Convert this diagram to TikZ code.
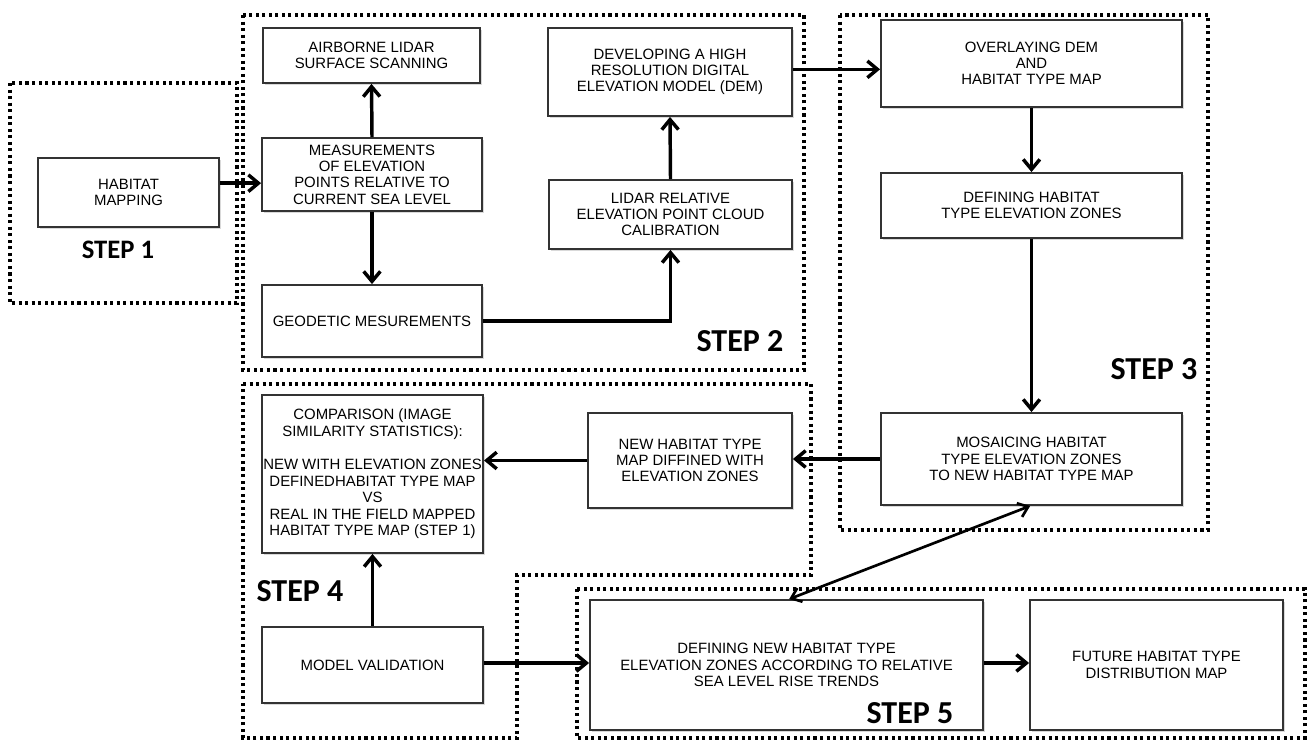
\documentclass[tikz,border=0pt]{standalone}
\usepackage{fontspec}
\setmainfont{Liberation Sans}
\newfontfamily\stepfont{Carlito}
\usetikzlibrary{arrows.meta,shadows}
\begin{document}
\begin{tikzpicture}[x=0.75pt,y=-0.75pt,
  box/.style={draw=black!80, line width=1.4pt, fill=white, align=center, inner sep=1pt,
    font=\fontsize{11.2pt}{12.2pt}\selectfont,
    drop shadow={shadow xshift=1.3pt, shadow yshift=-1.3pt, fill=black, opacity=0.15}},
  sz/.style 2 args={minimum width=#1*0.75pt, minimum height=#2*0.75pt},
  arr/.style={line width=2.6pt, -{Straight Barb[length=7.5pt,width=12.5pt,line width=2.6pt]}},
  darr/.style={line width=2pt, {Straight Barb[length=7pt,width=11pt,line width=2pt]}-{Straight Barb[length=7pt,width=11pt,line width=2pt]}},
  dots/.style={line width=2.3pt, dash pattern=on 2.3pt off 2.6pt},
  steplbl/.style={font=\stepfont\bfseries\fontsize{24pt}{24pt}\selectfont, inner sep=0pt}
]
\useasboundingbox (0,0) rectangle (1309,741);
\fill[white] (0,0) rectangle (1309,741);

% dotted step regions
\draw[dots] (10,83) rectangle (237,303);
\draw[dots] (243,15) rectangle (804,370);
\draw[dots] (840,15) rectangle (1208,530);
\draw[dots] (243,384) -- (811,384) -- (811,575) -- (517,575) -- (517,738) -- (243,738) -- cycle;
\draw[dots] (577,589) rectangle (1305,738);

% boxes
\node[box, sz={181}{69}]  (hab)  at (128.5,192.5) {HABITAT\\MAPPING};
\node[box, sz={217}{55}]  (air)  at (371.5,55.5)  {AIRBORNE LIDAR\\SURFACE SCANNING};
\node[box, sz={220}{73}]  (meas) at (372,174.5)   {MEASUREMENTS\\OF ELEVATION\\POINTS RELATIVE TO\\CURRENT SEA LEVEL};
\node[box, sz={220}{72}]  (geo)  at (372,321)     {GEODETIC MESUREMENTS};
\node[box, sz={244}{88}]  (dev)  at (670,72)      {DEVELOPING A HIGH\\RESOLUTION DIGITAL\\ELEVATION MODEL (DEM)};
\node[box, sz={243}{69}]  (lid)  at (670.5,214.5) {LIDAR RELATIVE\\ELEVATION POINT CLOUD\\CALIBRATION};
\node[box, sz={301}{87}]  (ovl)  at (1031.5,63.5) {OVERLAYING DEM\\AND\\HABITAT TYPE MAP};
\node[box, sz={301}{65}]  (defh) at (1031.5,205.5){DEFINING HABITAT\\TYPE ELEVATION ZONES};
\node[box, sz={301}{92}]  (mos)  at (1031.5,459)  {MOSAICING HABITAT\\TYPE ELEVATION ZONES\\TO NEW HABITAT TYPE MAP};
\node[box, sz={204}{95}]  (newh) at (690,460.5)   {NEW HABITAT TYPE\\MAP DIFFINED WITH\\ELEVATION ZONES};
\node[box, sz={221}{158}, font=\fontsize{11.2pt}{12.4pt}\selectfont] (cmp) at (372.5,474)
  {COMPARISON (IMAGE\\SIMILARITY STATISTICS):\\[12.4pt]NEW WITH ELEVATION ZONES\\DEFINEDHABITAT TYPE MAP\\VS\\REAL IN THE FIELD MAPPED\\HABITAT TYPE MAP (STEP 1)};
\node[box, sz={221}{76}]  (mv)   at (372.5,665)   {MODEL VALIDATION};
\node[box, sz={393}{130}] (defn) at (786.5,665)   {DEFINING NEW HABITAT TYPE\\ELEVATION ZONES ACCORDING TO RELATIVE\\SEA LEVEL RISE TRENDS};
\node[box, sz={253}{130}] (fut)  at (1156.5,665)  {FUTURE HABITAT TYPE\\DISTRIBUTION MAP};

% step labels
\node[steplbl, font=\stepfont\bfseries\fontsize{20pt}{20pt}\selectfont] (s1) at (118,250) {STEP 1};
\node[steplbl] (s2) at (740,341) {STEP 2};
\node[steplbl] (s3) at (1154,369) {STEP 3};
\node[steplbl] (s4) at (300,591) {STEP 4};
\node[steplbl] (s5) at (910,713) {STEP 5};

% connectors
\draw[arr] ([yshift=7pt]hab.east) -- ([yshift=7pt]hab.east -| meas.west);
\draw[arr] (meas.north) -- (air.south);
\draw[arr] (meas.south) -- (geo.north);
\draw[arr] (geo.east) -| (lid.south);
\draw[arr] (lid.north) -- (dev.south);
\draw[arr] ([yshift=2pt]dev.east) -- ([yshift=2pt]dev.east -| ovl.west);
\draw[arr] (ovl.south) -- (defh.north);
\draw[arr] (defh.south) -- (mos.north);
\draw[arr] (mos.west) -- (mos.west -| newh.east);
\draw[arr] (newh.west) -- (newh.west -| cmp.east);
\draw[arr] (mv.north) -- (cmp.south);
\draw[arr] ([yshift=1.5pt]mv.east) -- ([yshift=1.5pt]mv.east -| defn.west);
\draw[arr] ([yshift=1.5pt]defn.east) -- ([yshift=1.5pt]defn.east -| fut.west);
\draw[darr] ([xshift=2pt]defn.north) -- ([xshift=-1pt]mos.south);
\end{tikzpicture}
\end{document}
